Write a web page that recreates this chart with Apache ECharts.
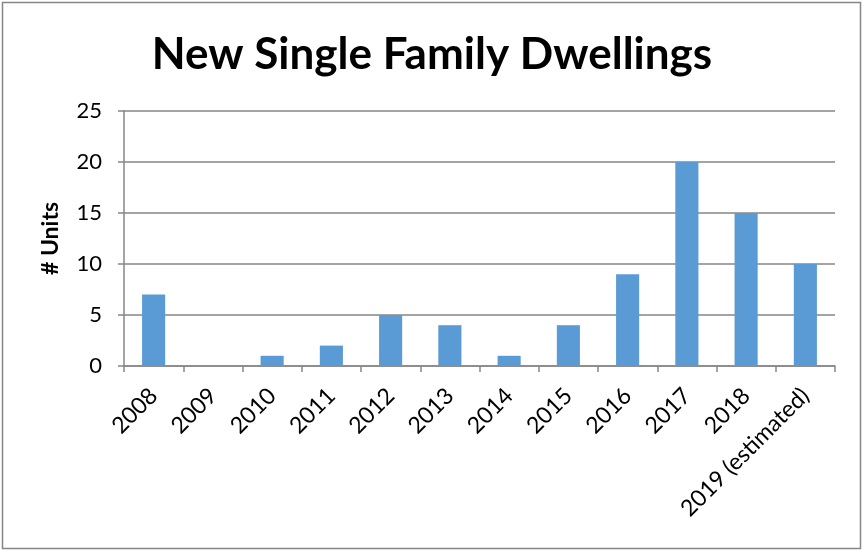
<!DOCTYPE html>
<html><head><meta charset="utf-8">
<script src="https://cdn.jsdelivr.net/npm/echarts@6/dist/echarts.min.js"></script>
<style>html,body{margin:0;padding:0;background:#fff}#c{width:864px;height:550px}</style>
</head><body><div id="c"></div>
<script>
const categories = ['2008','2009','2010','2011','2012','2013','2014','2015','2016','2017','2018','2019 (estimated)'];
const units = [7, 0, 1, 2, 5, 4, 1, 4, 9, 20, 15, 10];
const yTicks = [0, 5, 10, 15, 20, 25];

const chart = echarts.init(document.getElementById('c'), null, {renderer: 'canvas'});
const F = 'Lato, "Open Sans", sans-serif';
chart.setOption({
  animation: false,
  backgroundColor: '#fff',
  graphic: [{type: 'rect', shape: {x: 2.5, y: 2.5, width: 858, height: 546}, style: {fill: 'none', stroke: '#868686', lineWidth: 1.5}, silent: true}],
  title: {text: 'New Single Family Dwellings', left: 'center', top: 28,
    textStyle: {fontFamily: F, fontWeight: 'bold', fontSize: 44, color: '#000'}},
  grid: {left: 124, right: 29, top: 111, bottom: 184},
  xAxis: {type: 'category', data: categories,
    axisLine: {lineStyle: {color: '#868686', width: 1.5}},
    axisTick: {show: true, length: 6, lineStyle: {color: '#868686', width: 1.5}},
    axisLabel: {rotate: 45, fontFamily: F, fontSize: 23, color: '#000', margin: 26, interval: 0}},
  yAxis: {type: 'value', min: yTicks[0], max: yTicks[yTicks.length - 1], interval: 5,
    name: '# Units', nameLocation: 'middle', nameGap: 62,
    nameTextStyle: {fontFamily: F, fontWeight: 'bold', fontSize: 23, color: '#000'},
    axisLine: {show: true, lineStyle: {color: '#868686', width: 1.5}},
    axisTick: {show: true, length: 6, lineStyle: {color: '#868686', width: 1.5}},
    splitLine: {lineStyle: {color: '#868686', width: 1.5}},
    axisLabel: {fontFamily: F, fontSize: 22, color: '#000', margin: 22}},
  series: [{type: 'bar', data: units, barWidth: '39%', itemStyle: {color: '#5B9BD5'}}]
});
</script></body></html>
